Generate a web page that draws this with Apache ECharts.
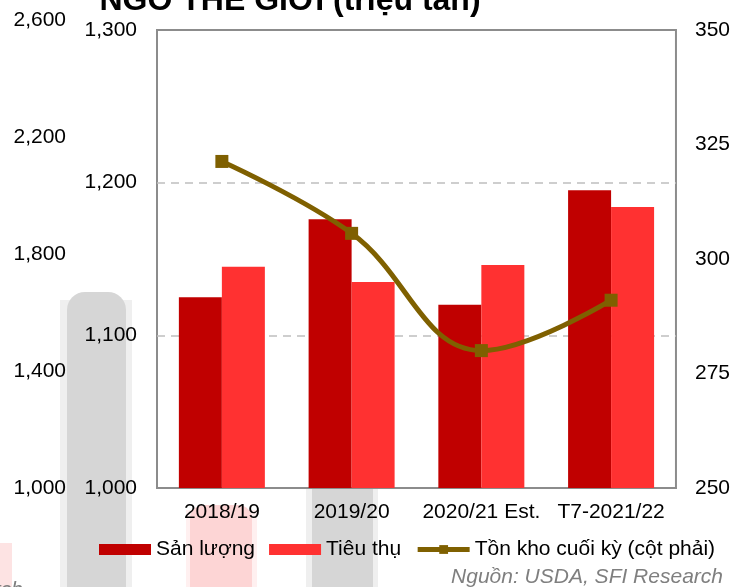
<!DOCTYPE html>
<html style="height: 100%">
<head>
    <meta charset="utf-8">
    <title>Ngô thế giới</title>
</head>
<body style="height: 100%; margin: 0;">
    <div id="container" style="width: 733px; height: 587px;"></div>
    <script src="https://cdn.jsdelivr.net/npm/echarts@6/dist/echarts.min.js"></script>
    <script type="text/javascript">
        // data (triệu tấn)
        var categories = ['2018/19', '2019/20', '2020/21 Est.', 'T7-2021/22'];
        var sanLuong = [1125, 1176, 1120, 1195];
        var tieuThu = [1145, 1135, 1146, 1184];
        var tonKho = [321.3, 305.6, 280, 291];   // cột phải

        var FONT = 'Liberation Sans, Arial, sans-serif';
        var FS = 21;
        var fmt = function (v) { return Number(v).toLocaleString('en-US'); };

        var dom = document.getElementById('container');
        var myChart = echarts.init(dom);

        var option = {
            animation: false,
            backgroundColor: '#fff',
            textStyle: { fontFamily: FONT },
            graphic: [
                // faded shapes behind the chart
                { type: 'rect', z: -10, shape: { x: 60, y: 300, width: 72, height: 300 }, style: { fill: '#efefef' } },
                { type: 'rect', z: -9, shape: { x: 67, y: 292, width: 59, height: 300, r: [18, 18, 0, 0] }, style: { fill: '#d6d6d6' } },
                { type: 'rect', z: -10, shape: { x: 306, y: 489, width: 72, height: 100 }, style: { fill: '#efefef' } },
                { type: 'rect', z: -9, shape: { x: 312, y: 489, width: 61, height: 100 }, style: { fill: '#d6d6d6' } },
                { type: 'rect', z: -10, shape: { x: 186, y: 510, width: 71, height: 80 }, style: { fill: '#fff0f0' } },
                { type: 'rect', z: -9, shape: { x: 190, y: 505, width: 62, height: 90, r: [14, 14, 0, 0] }, style: { fill: '#fdd5d5' } },
                { type: 'rect', z: -9, shape: { x: 0, y: 543, width: 12, height: 50 }, style: { fill: '#fde3e3' } },
                {
                    type: 'text', z: 5, x: 290, y: 1,
                    style: {
                        text: 'NGÔ THẾ GIỚI (triệu tấn)', fill: '#000', fontFamily: FONT,
                        fontSize: 32, fontWeight: 'bold', align: 'center', verticalAlign: 'middle'
                    }
                },
                {
                    type: 'text', z: 5, x: 723, y: 577,
                    style: {
                        text: 'Nguồn: USDA, SFI Research', fill: '#7f7f7f', fontFamily: FONT,
                        fontSize: FS, fontStyle: 'italic', align: 'right', verticalAlign: 'middle'
                    }
                },
                {
                    type: 'text', z: 5, x: 23, y: 590,
                    style: {
                        text: 'SFI Research', fill: '#7f7f7f', fontFamily: FONT,
                        fontSize: FS, fontStyle: 'italic', align: 'right', verticalAlign: 'middle'
                    }
                }
            ],
            legend: {
                left: 99,
                top: 539,
                padding: 0,
                itemWidth: 52,
                itemHeight: 11,
                itemGap: 14,
                textStyle: { fontSize: FS, color: '#000', fontFamily: FONT },
                data: [
                    { name: 'Sản lượng', icon: 'rect' },
                    { name: 'Tiêu thụ', icon: 'rect' },
                    { name: 'Tồn kho cuối kỳ (cột phải)', lineStyle: { width: 5 } }
                ]
            },
            grid: [
                {
                    left: 157, right: 56, top: 30, bottom: 99,
                    show: true, borderColor: '#8c8c8c', borderWidth: 2, backgroundColor: 'rgba(0,0,0,0)'
                },
                { left: 70, width: 1, top: 20, bottom: 99, show: false }
            ],
            xAxis: [
                {
                    type: 'category',
                    data: categories,
                    gridIndex: 0,
                    axisLine: { lineStyle: { color: '#8c8c8c', width: 2 } },
                    axisTick: { show: false },
                    axisLabel: { interval: 0, fontSize: FS, color: '#000', margin: 14, fontFamily: FONT }
                },
                { type: 'value', gridIndex: 1, show: false }
            ],
            yAxis: [
                {
                    type: 'value', gridIndex: 0,
                    min: 1000, max: 1300, interval: 100,
                    axisLine: { show: false },
                    axisTick: { show: false },
                    axisLabel: { fontSize: FS, color: '#000', margin: 20, formatter: fmt, fontFamily: FONT },
                    splitLine: {
                        show: true, showMinLine: false, showMaxLine: false,
                        lineStyle: { color: '#bfbfbf', width: 1.5, type: [8, 6] }
                    }
                },
                {
                    type: 'value', gridIndex: 0, position: 'right',
                    min: 250, max: 350, interval: 25,
                    axisLine: { show: false },
                    axisTick: { show: false },
                    axisLabel: { fontSize: FS, color: '#000', margin: 19, fontFamily: FONT },
                    splitLine: { show: false }
                },
                {
                    // faint copy of another axis on the far left
                    type: 'value', gridIndex: 1,
                    min: 1000, max: 2600, interval: 400,
                    axisLine: { show: false },
                    axisTick: { show: false },
                    axisLabel: { fontSize: FS, color: '#000', margin: 4, formatter: fmt, fontFamily: FONT },
                    splitLine: { show: false }
                }
            ],
            series: [
                {
                    name: 'Sản lượng',
                    type: 'bar',
                    data: sanLuong,
                    barWidth: 43,
                    barGap: '0%',
                    itemStyle: { color: '#C00000' }
                },
                {
                    name: 'Tiêu thụ',
                    type: 'bar',
                    data: tieuThu,
                    barWidth: 43,
                    barGap: '0%',
                    itemStyle: { color: '#FF3131' }
                },
                {
                    name: 'Tồn kho cuối kỳ (cột phải)',
                    type: 'line',
                    yAxisIndex: 1,
                    data: tonKho,
                    smooth: 0.4,
                    symbol: 'rect',
                    symbolSize: 13,
                    lineStyle: { color: '#7F6000', width: 5 },
                    itemStyle: { color: '#7F6000' }
                }
            ]
        };

        myChart.setOption(option);
    </script>
</body>
</html>
